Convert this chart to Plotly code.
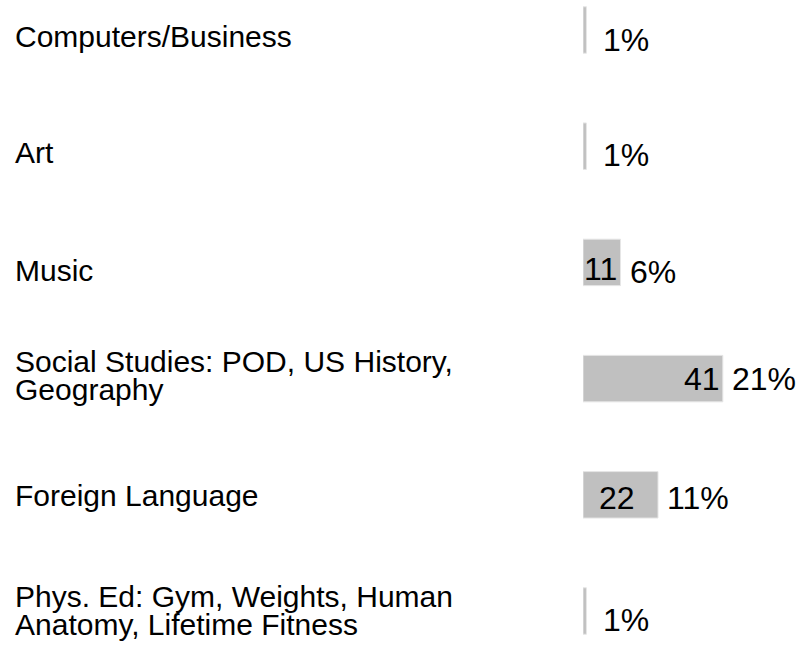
import plotly.graph_objects as go

categories = [
    "Computers/Business",
    "Art",
    "Music",
    "Social Studies: POD, US History,<br>Geography",
    "Foreign Language",
    "Phys. Ed: Gym, Weights, Human<br>Anatomy, Lifetime Fitness",
]
counts = [1, 1, 11, 41, 22, 1]
percents = ["1%", "1%", "6%", "21%", "11%", "1%"]

FONT = "Arial, Liberation Sans, sans-serif"
ypos = list(range(len(categories)))

# style offsets (pixels) for text placement
label_dy = [-7, -6, -8, 3, -1, 1]
pct_dy = [-10, -9, -10, 0, -3, -9]
val_dx = [0, 0, -2, -1, -21, 0]
val_dy = [0, 0, -7, 0, -3, 0]
LINE_GAP = 28

fig = go.Figure()
fig.add_trace(go.Bar(
    x=counts,
    y=ypos,
    orientation="h",
    width=0.4,
    marker=dict(color="#c0c0c0", line=dict(color="#e6e6e6", width=1)),
    hoverinfo="skip",
))

annotations = []
for i, (cat, n, p) in enumerate(zip(categories, counts, percents)):
    lines = cat.split("<br>")
    k = len(lines)
    for j, line in enumerate(lines):
        annotations.append(dict(
            x=13 / 804, xref="paper", y=i, yref="y",
            text=line, showarrow=False, xanchor="left", yanchor="middle",
            align="left", font=dict(family=FONT, size=30, color="black"),
            yshift=label_dy[i] + ((k - 1) / 2 - j) * LINE_GAP,
        ))
    annotations.append(dict(
        x=n, xref="x", y=i, yref="y",
        text=p, showarrow=False, xanchor="left", yanchor="middle",
        font=dict(family=FONT, size=32, color="black"),
        xshift=(15 if n < 5 else 7), yshift=pct_dy[i],
    ))
    if n >= 5:
        annotations.append(dict(
            x=n, xref="x", y=i, yref="y",
            text=str(n), showarrow=False, xanchor="right", yanchor="middle",
            font=dict(family=FONT, size=32, color="black"),
            xshift=val_dx[i], yshift=val_dy[i],
        ))

fig.update_layout(
    width=804, height=646,
    margin=dict(l=0, r=0, t=0, b=0),
    paper_bgcolor="white", plot_bgcolor="white",
    showlegend=False,
    xaxis=dict(domain=[583 / 804, 1], range=[0, 64.8], visible=False, fixedrange=True),
    yaxis=dict(range=[5.301, -0.258], visible=False, fixedrange=True),
    annotations=annotations,
)

fig.write_html(
    "out.html",
    config={"displayModeBar": False},
    post_script="document.body.style.margin='0';document.body.style.overflow='hidden';",
)
